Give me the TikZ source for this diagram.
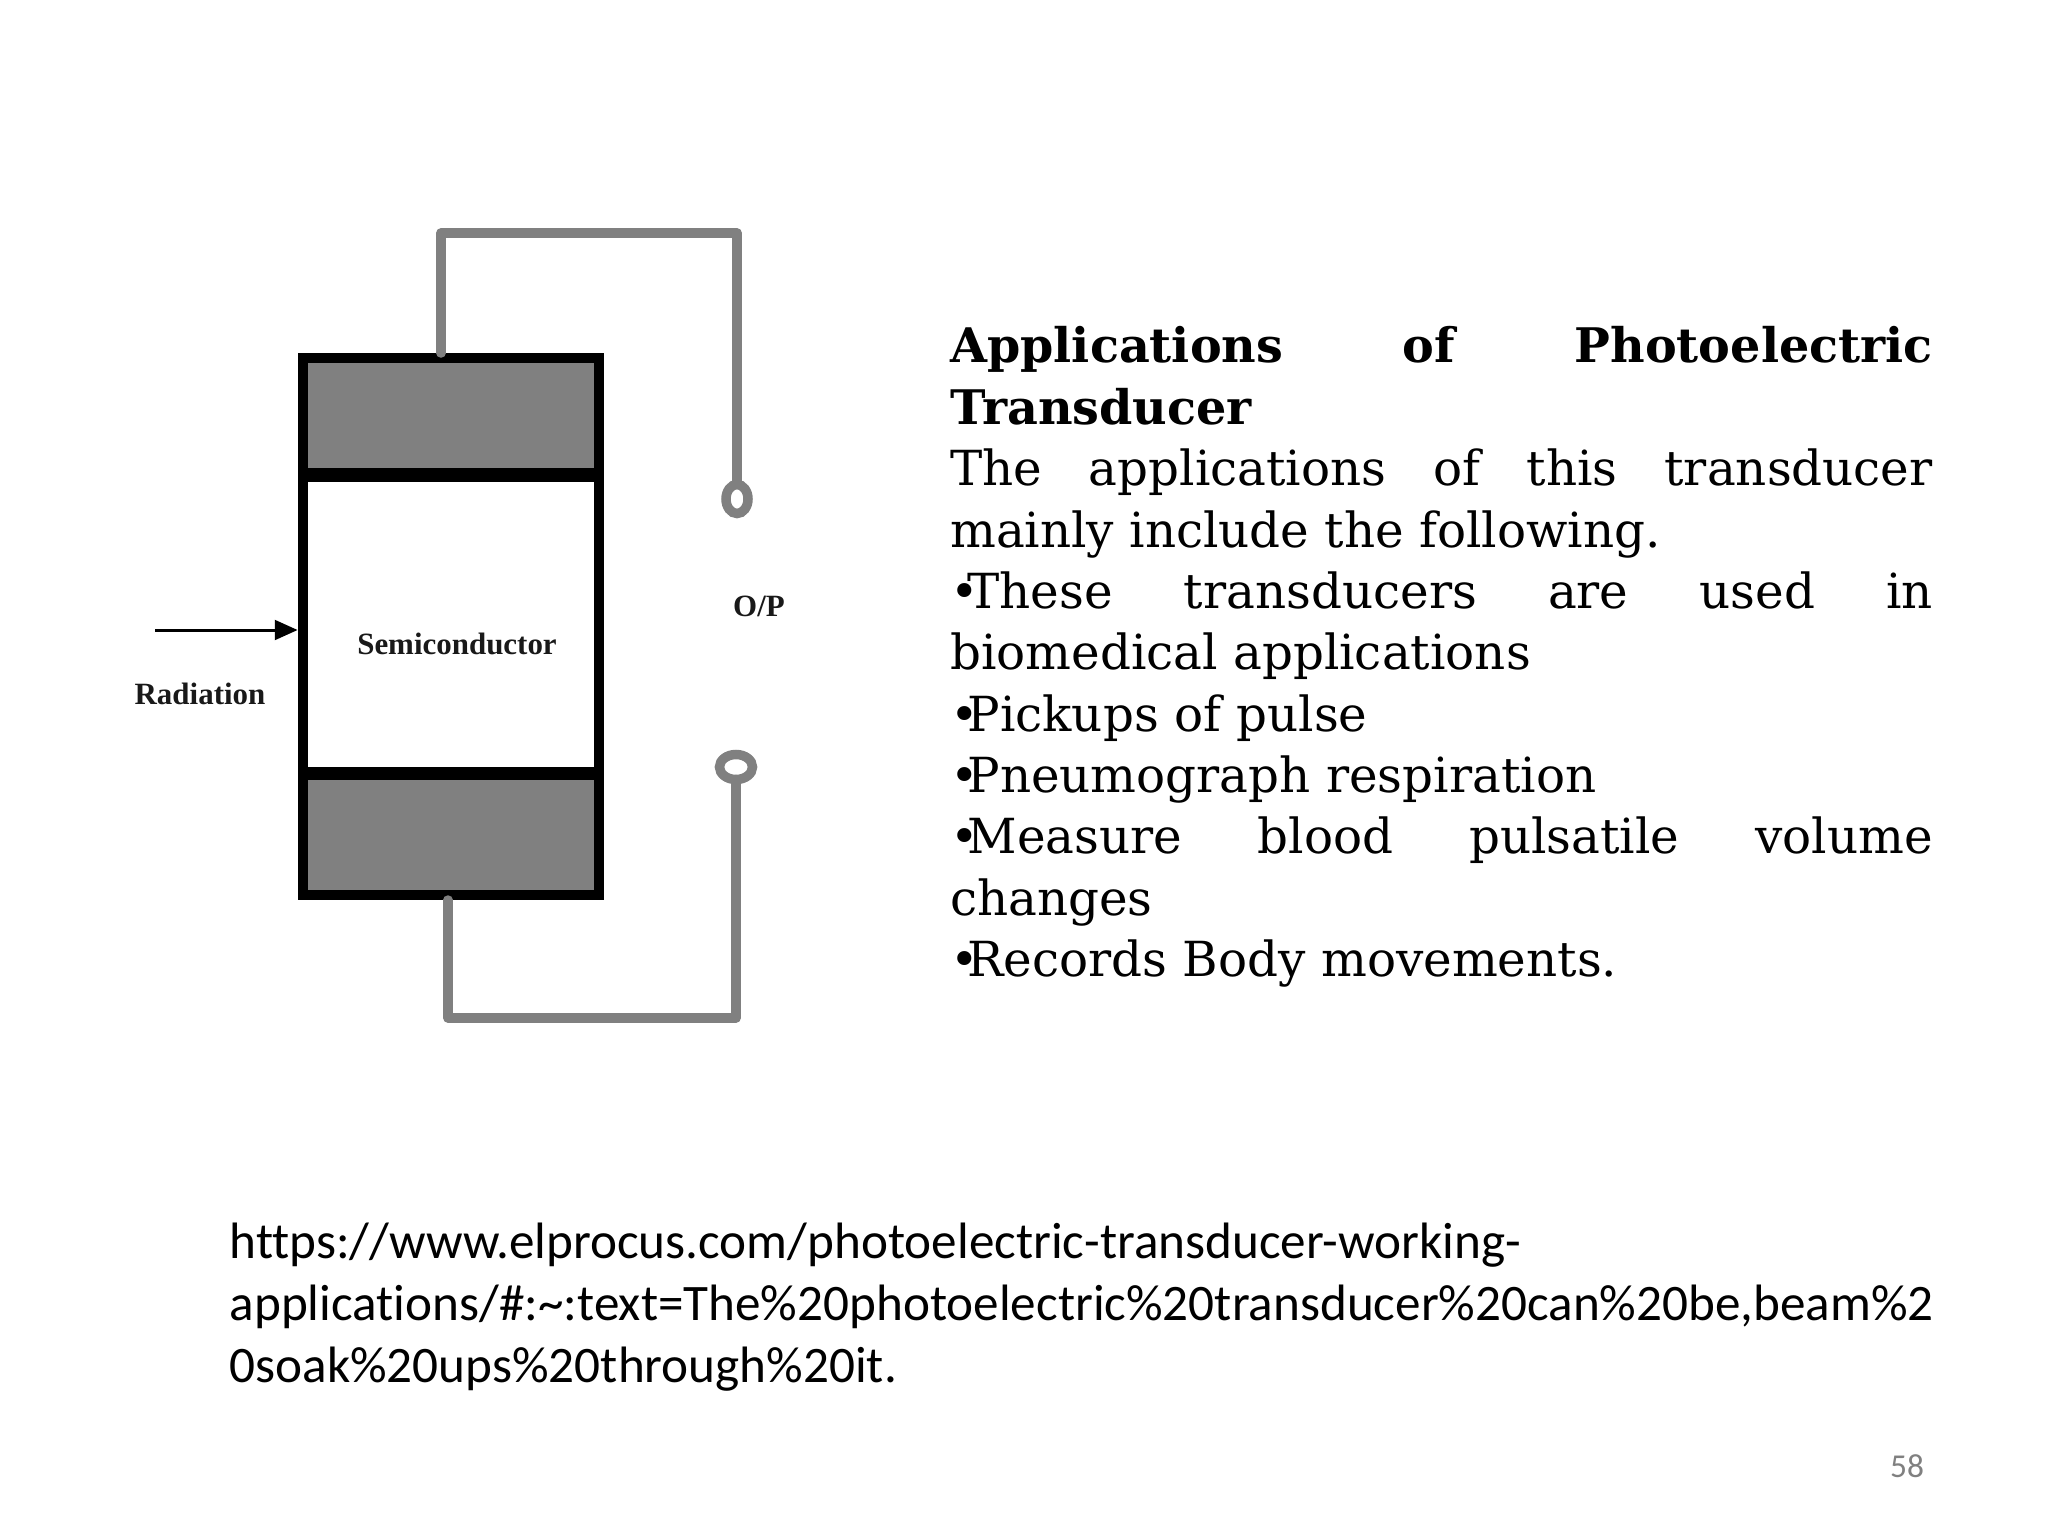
\documentclass[tikz,border=0pt]{standalone}
\usepackage{fontspec}
\setmainfont{DejaVu Serif}
\newfontfamily\figfont{Liberation Serif}
\newfontfamily\urlfont[Ligatures=NoCommon]{Carlito}
\usetikzlibrary{arrows.meta}
\usetikzlibrary{positioning,shapes.geometric}
\definecolor{wiregray}{HTML}{808080}
\newcommand{\bul}{•\kern-3.2pt}
\tikzset{
  electrode/.style={draw=black,fill=wiregray,line width=2.8pt,inner sep=0,outer sep=0,minimum width=2.96cm,minimum height=#1},
  wire/.style={draw=wiregray,line width=2.7pt,line cap=round,line join=round},
  terminal/.style={ellipse,draw=wiregray,line width=2.7pt,inner sep=0,outer sep=0},
  figlabel/.style={font=\figfont\bfseries\fontsize{8.8}{10}\selectfont,text=black!90,inner sep=0},
}

\begin{document}
\begin{tikzpicture}[x=0.01cm,y=-0.01cm]
\useasboundingbox (0,0) rectangle (2048,1536);

\node(Top) [electrode=1.17cm] at (451,416.5) {};
\node(Body) [electrode=2.98cm,fill=white,below=0pt of Top] {};
\node(Bottom) [electrode=1.22cm,below=0pt of Body] {};

\draw[line width=3.8pt] (Body.north west) -- (Body.north east);
\draw[line width=3.8pt] (Body.south west) -- (Body.south east);

\node(Semi) [figlabel] at (457,644) {Semiconductor};
\node(Rad) [figlabel] at (200,694) {Radiation};
\node(OP) [figlabel] at (759,606) {O/P};

\node(Term1) [terminal,minimum width=0.22cm,minimum height=0.29cm] at (737,499) {};
\node(Term2) [terminal,minimum width=0.33cm,minimum height=0.25cm] at (736,767) {};

\coordinate (W1) at (441,353);
\coordinate (W2) at (737,233);
\coordinate (W3) at (448,900);
\coordinate (W4) at (736,1018);
\coordinate (A1) at (155,630);

\draw[wire] (W1) |- (W2) -- (Term1);
\draw[wire] (W3) |- (W4) -- (Term2);
\draw[line width=0.85pt,shorten >=1.5pt,-{Stealth[inset=0pt,length=6.5pt,width=5.6pt]}] (A1) -- (Top.west |- A1);

\node(Text) [anchor=north west,inner sep=0,text width=9.82cm,align=justify,
  font=\fontsize{13.75}{17.45}\selectfont] at (949.5,326) {%
{\fontsize{13.55}{17.45}\selectfont\textbf{Applications of Photoelectric}\linebreak
\textbf{Transducer}}\\
The applications of this transducer\linebreak
mainly include the following.\\
\bul These transducers are used in\linebreak
biomedical applications\\
\bul Pickups of pulse\\
\bul Pneumograph respiration\\
\bul Measure blood pulsatile volume\linebreak
changes\\
\bul Records Body movements.};

\node(Url) [anchor=north west,inner sep=0,text width=17.2cm,align=left,
  font=\urlfont\fontsize{14.55}{17.6}\selectfont] at (229,1222) {%
https://www.elprocus.com/photoelectric-transducer-working-\\
applications/\#:\char`~:text=The\%20photoelectric\%20transducer\%20can\%20be,beam\%2\\
0soak\%20ups\%20through\%20it.};

\node(Page) [inner sep=0,text=black!50,font=\urlfont\fontsize{9.5}{11}\selectfont] at (1907,1466) {58};

\end{tikzpicture}
\end{document}
